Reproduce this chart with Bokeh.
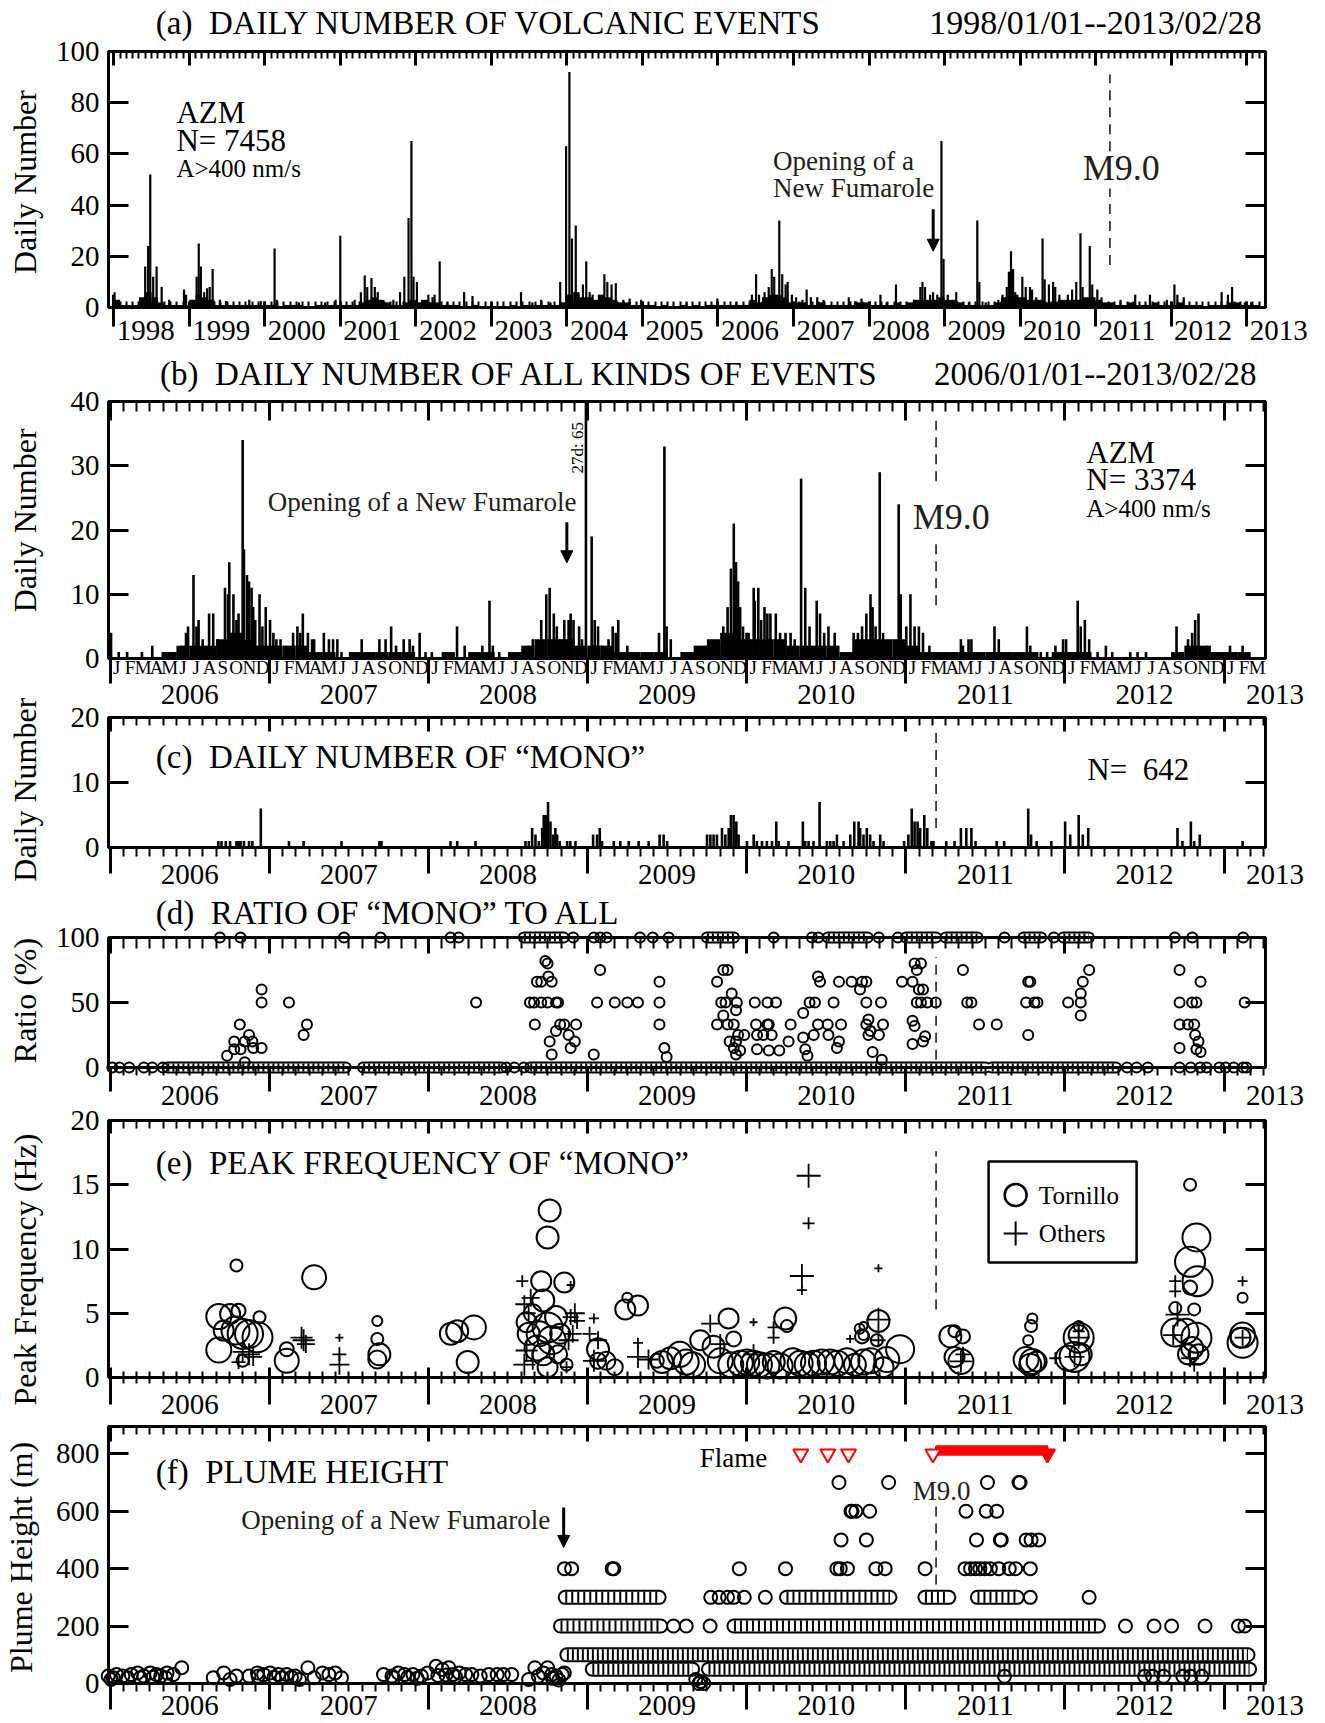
import numpy as np
from bokeh.plotting import figure
from bokeh.models import (FixedTicker, LinearAxis, Range1d, Label, LabelSet,
                          ColumnDataSource, Arrow, NormalHead)
from bokeh.embed import file_html
from bokeh.resources import INLINE
from bokeh.core.properties import value

FONT = "Liberation Serif"
INK = "#231f20"
NB = "\u00a0"

# ---------------- DATA ----------------
M9 = 2011.19          # Tohoku earthquake (2011/03/11)

# (a) daily number of volcanic events 1998-2013: monthly background level + spikes
a_bg = [
    [3, 1, 1, 1, 4, 6, 4, 2, 1, 1, 1, 1],   # 1998
    [3, 5, 4, 3, 1, 1, 1, 1, 1, 1, 1, 1],   # 1999
    [1, 1, 0, 1, 1, 1, 0, 0, 1, 1, 1, 1],   # 2000
    [1, 1, 1, 2, 3, 4, 3, 2, 1, 1, 2, 3],   # 2001
    [2, 3, 2, 2, 1, 1, 1, 0, 0, 1, 0, 0],   # 2002
    [0, 0, 0, 1, 0, 1, 1, 1, 1, 1, 1, 2],   # 2003
    [5, 6, 4, 4, 3, 5, 4, 3, 2, 2, 1, 1],   # 2004
    [1, 1, 0, 1, 0, 0, 1, 0, 1, 0, 1, 1],   # 2005
    [1, 1, 1, 1, 1, 3, 2, 4, 5, 5, 4, 2],   # 2006
    [2, 2, 1, 1, 2, 1, 1, 1, 1, 1, 2, 2],   # 2007
    [1, 1, 1, 1, 2, 1, 2, 3, 3, 3, 3, 4],   # 2008
    [3, 3, 2, 1, 1, 1, 1, 1, 2, 4, 5, 4],   # 2009
    [4, 3, 3, 3, 2, 2, 3, 3, 3, 3, 4, 4],   # 2010
    [3, 2, 2, 1, 1, 2, 1, 1, 1, 2, 1, 1],   # 2011
    [1, 2, 1, 1, 1, 0, 1, 1, 1, 2, 2, 1],   # 2012
    [1, 1],                                 # 2013
]
a_spikes = [
    (1997.99, 5), (1998.01, 6), (1998.416, 16), (1998.455, 24), (1998.483, 52), (1998.522, 12),
    (1998.567, 16), (1998.634, 8), (1998.734, 3), (1998.93, 7), (1998.957, 5), (1999.097, 12),
    (1999.125, 25), (1999.153, 16), (1999.197, 6), (1999.236, 7.5), (1999.27, 8), (1999.309, 15),
    (1999.404, 3), (1999.487, 2.5), (1999.794, 3), (1999.945, 2.5), (2000.129, 23), (2000.157, 3),
    (2000.452, 2), (2000.798, 2), (2000.937, 3), (2000.999, 28), (2001.189, 3), (2001.272, 6),
    (2001.323, 12.5), (2001.356, 8), (2001.412, 11.5), (2001.456, 8), (2001.495, 6), (2001.702, 3),
    (2001.79, 6), (2001.847, 12), (2001.903, 35), (2001.941, 65), (2001.969, 12), (2002.014, 10),
    (2002.081, 3), (2002.165, 5), (2002.22, 4), (2002.248, 5), (2002.315, 18), (2002.416, 2),
    (2002.639, 6), (2002.75, 4.5), (2003.392, 6), (2003.543, 2), (2003.66, 3), (2003.782, 2),
    (2003.911, 10), (2003.989, 63), (2004.033, 92), (2004.067, 27), (2004.117, 32), (2004.156, 5),
    (2004.212, 9), (2004.256, 18), (2004.301, 6), (2004.34, 5), (2004.424, 5), (2004.496, 13),
    (2004.535, 10), (2004.591, 9), (2004.647, 9.5), (2004.747, 3), (2004.831, 3.5), (2004.982, 3),
    (2005.585, 2), (2005.992, 3.5), (2006.243, 2), (2006.449, 5), (2006.505, 13), (2006.544, 5),
    (2006.617, 6), (2006.672, 8), (2006.712, 15), (2006.745, 12), (2006.812, 34), (2006.851, 13),
    (2006.896, 9), (2006.923, 10), (2006.979, 5), (2007.035, 4), (2007.119, 3), (2007.174, 7),
    (2007.23, 4), (2007.314, 4), (2007.398, 3), (2007.732, 4), (2007.816, 2.5), (2007.9, 3.5),
    (2008.151, 5), (2008.234, 2), (2008.357, 9), (2008.597, 3), (2008.68, 8), (2008.708, 10),
    (2008.742, 8), (2008.809, 5), (2008.848, 6), (2008.904, 5), (2008.959, 65), (2008.987, 19),
    (2009.043, 5), (2009.155, 6), (2009.322, 2), (2009.434, 34), (2009.461, 10), (2009.545, 2),
    (2009.712, 3), (2009.768, 5), (2009.824, 8), (2009.852, 14), (2009.88, 22), (2009.908, 15),
    (2009.936, 6), (2009.963, 5), (2010.03, 12), (2010.075, 8), (2010.131, 8), (2010.159, 7),
    (2010.214, 4), (2010.298, 27), (2010.326, 11), (2010.382, 9), (2010.438, 10), (2010.466, 8),
    (2010.521, 5), (2010.633, 5), (2010.689, 7), (2010.744, 10), (2010.8, 29), (2010.828, 8),
    (2010.923, 24), (2010.956, 9), (2011.023, 7), (2011.079, 4), (2011.33, 3), (2011.525, 5),
    (2011.72, 5), (2011.944, 3), (2012.044, 9), (2012.083, 5), (2012.167, 4), (2012.669, 6),
    (2012.753, 5), (2012.808, 8), (2012.976, 2), (2013.059, 2),
]

# (b) daily number of all kinds of events 2006-2013
b_bg = [
    [0, 0, 0, 0, 1, 2, 2, 2, 3, 4, 3, 2],   # 2006
    [2, 2, 2, 1, 1, 0, 1, 1, 1, 1, 1, 0],   # 2007
    [0, 1, 0, 1, 1, 0, 1, 2, 3, 3, 3, 2],   # 2008
    [2, 2, 1, 1, 1, 1, 0, 1, 2, 3, 4, 3],   # 2009
    [3, 3, 3, 2, 2, 2, 2, 1, 3, 3, 3, 3],   # 2010
    [2, 1, 1, 1, 1, 1, 1, 1, 1, 1, 0, 1],   # 2011
    [1, 1, 0, 0, 0, 0, 0, 0, 1, 2, 2, 1],   # 2012
    [1, 1],                                 # 2013
]
b_bars = [
    (2006.006, 4), (2006.054, 1), (2006.107, 1), (2006.2, 1), (2006.265, 2), (2006.331, 1),
    (2006.384, 1), (2006.41, 1), (2006.45, 2), (2006.477, 4), (2006.49, 5), (2006.524, 13),
    (2006.543, 5), (2006.556, 6), (2006.582, 3), (2006.603, 2), (2006.622, 7), (2006.648, 7),
    (2006.675, 3), (2006.722, 11), (2006.741, 10), (2006.749, 15), (2006.775, 10), (2006.794, 6),
    (2006.807, 7), (2006.833, 34), (2006.841, 17), (2006.86, 13), (2006.873, 12), (2006.889, 11),
    (2006.899, 8), (2006.912, 6), (2006.939, 10), (2006.957, 5), (2006.978, 8), (2007.005, 6),
    (2007.026, 4), (2007.045, 3), (2007.071, 3), (2007.15, 4), (2007.177, 5), (2007.195, 4),
    (2007.211, 7), (2007.243, 4), (2007.269, 3), (2007.282, 3), (2007.343, 4), (2007.375, 3),
    (2007.401, 3), (2007.428, 3), (2007.454, 1), (2007.581, 3), (2007.62, 1), (2007.66, 1),
    (2007.692, 3), (2007.731, 3), (2007.766, 5), (2007.797, 2), (2007.845, 3), (2007.882, 3),
    (2007.903, 2), (2007.945, 4), (2007.982, 1), (2008.022, 1), (2008.115, 1), (2008.18, 5),
    (2008.228, 2), (2008.273, 1), (2008.339, 2), (2008.384, 9), (2008.405, 2), (2008.445, 1),
    (2008.59, 1), (2008.63, 2), (2008.656, 3), (2008.709, 6), (2008.741, 10), (2008.762, 11),
    (2008.788, 7), (2008.807, 5), (2008.828, 3), (2008.854, 6), (2008.881, 6), (2008.894, 7),
    (2008.912, 6), (2008.947, 5), (2008.965, 3), (2008.99, 65), (2009.026, 19), (2009.045, 6),
    (2009.066, 5), (2009.092, 2), (2009.132, 3), (2009.158, 5), (2009.177, 4), (2009.193, 6),
    (2009.25, 2), (2009.316, 1), (2009.383, 1), (2009.449, 4), (2009.483, 33), (2009.497, 5),
    (2009.523, 3), (2009.602, 1), (2009.668, 1), (2009.721, 1), (2009.748, 2), (2009.787, 2),
    (2009.827, 2), (2009.853, 5), (2009.88, 8), (2009.901, 14), (2009.919, 21), (2009.933, 15),
    (2009.946, 12), (2009.959, 8), (2009.977, 5), (2009.999, 4), (2010.012, 4), (2010.044, 11),
    (2010.051, 9), (2010.073, 11), (2010.091, 6), (2010.112, 8), (2010.13, 7), (2010.149, 7),
    (2010.183, 7), (2010.21, 4), (2010.244, 4), (2010.276, 4), (2010.302, 3), (2010.342, 28),
    (2010.368, 11), (2010.395, 5), (2010.44, 9), (2010.461, 7), (2010.487, 4), (2010.514, 5),
    (2010.553, 4), (2010.62, 1), (2010.672, 4), (2010.699, 4), (2010.725, 5), (2010.752, 7),
    (2010.778, 10), (2010.791, 8), (2010.81, 5), (2010.836, 29), (2010.857, 4), (2010.897, 1),
    (2010.955, 24), (2010.968, 10), (2011.003, 5), (2011.029, 10), (2011.055, 5), (2011.082, 5),
    (2011.108, 4), (2011.148, 2), (2011.174, 1), (2011.254, 1), (2011.306, 1), (2011.346, 3),
    (2011.359, 2), (2011.394, 3), (2011.412, 3), (2011.452, 1), (2011.557, 5), (2011.584, 3),
    (2011.65, 1), (2011.761, 5), (2011.782, 2), (2011.848, 1), (2011.888, 1), (2011.94, 2),
    (2011.988, 3), (2012.007, 3), (2012.033, 1), (2012.08, 9), (2012.099, 5), (2012.125, 6),
    (2012.152, 3), (2012.205, 1), (2012.257, 2), (2012.297, 1), (2012.41, 1), (2012.456, 1),
    (2012.509, 1), (2012.701, 5), (2012.733, 1), (2012.773, 3), (2012.799, 4), (2012.818, 6),
    (2012.839, 7), (2012.865, 1), (2012.892, 2), (2012.971, 1), (2012.997, 1), (2013.037, 2),
    (2013.076, 1), (2013.116, 2),
]

# (c) daily number of "MONO"
c_bars = [
    (2006.68, 1), (2006.70, 1), (2006.727, 1), (2006.754, 1), (2006.794, 1), (2006.807, 1),
    (2006.82, 1), (2006.841, 1), (2006.873, 1), (2006.894, 1), (2006.947, 6), (2007.124, 1),
    (2007.216, 1), (2007.454, 1), (2007.692, 1), (2007.705, 1), (2008.139, 1), (2008.181, 1),
    (2008.296, 1), (2008.61, 1), (2008.631, 1), (2008.652, 3), (2008.673, 2), (2008.694, 1),
    (2008.715, 3), (2008.725, 5), (2008.74, 5), (2008.752, 7), (2008.767, 4), (2008.784, 2),
    (2008.798, 3), (2008.809, 2), (2008.825, 1), (2008.872, 1), (2008.892, 1), (2008.924, 1),
    (2009.035, 2), (2009.06, 2), (2009.077, 3), (2009.091, 1), (2009.165, 1), (2009.206, 1),
    (2009.259, 1), (2009.321, 1), (2009.384, 1), (2009.453, 2), (2009.478, 2), (2009.5, 1),
    (2009.751, 2), (2009.772, 2), (2009.792, 2), (2009.813, 2), (2009.845, 3), (2009.866, 2),
    (2009.887, 3), (2009.901, 5), (2009.918, 5), (2009.935, 4), (2009.949, 2), (2010.002, 1),
    (2010.044, 2), (2010.064, 1), (2010.096, 1), (2010.127, 1), (2010.159, 1), (2010.186, 4),
    (2010.201, 1), (2010.263, 1), (2010.353, 4), (2010.368, 1), (2010.389, 1), (2010.42, 1),
    (2010.458, 7), (2010.504, 1), (2010.525, 1), (2010.546, 1), (2010.567, 2), (2010.609, 1),
    (2010.651, 2), (2010.676, 4), (2010.703, 4), (2010.713, 3), (2010.734, 2), (2010.755, 3),
    (2010.776, 2), (2010.797, 1), (2010.839, 2), (2010.86, 1), (2010.989, 1), (2011.016, 2),
    (2011.037, 6), (2011.055, 4), (2011.074, 4), (2011.09, 3), (2011.116, 5), (2011.135, 3),
    (2011.161, 1), (2011.174, 1), (2011.254, 1), (2011.306, 1), (2011.346, 3), (2011.38, 3),
    (2011.412, 3), (2011.438, 1), (2011.571, 1), (2011.618, 1), (2011.769, 6), (2011.787, 2),
    (2011.822, 1), (2011.914, 1), (2012.001, 4), (2012.033, 2), (2012.086, 5), (2012.112, 2),
    (2012.146, 3), (2012.707, 3), (2012.738, 1), (2012.791, 4), (2012.812, 1), (2012.847, 2),
    (2013.116, 1),
]

# (d) ratio of "MONO" to all (%)
d_zero_runs = [(2006.36, 2007.48), (2007.59, 2008.46), (2008.64, 2011.50), (2011.54, 2012.32)]
d_zero_single = [2006.014, 2006.059, 2006.12, 2006.212, 2006.265, 2006.331, 2008.49, 2008.54,
                 2008.60, 2012.39, 2012.45, 2012.52, 2012.72, 2012.79, 2012.85, 2012.89,
                 2012.97, 2013.01, 2013.06, 2013.12, 2013.14]
d_full_runs = [(2008.60, 2008.85), (2009.75, 2009.92), (2010.51, 2010.76), (2011.00, 2011.19),
               (2011.25, 2011.45), (2011.74, 2011.85), (2011.99, 2012.15)]
d_full_single = [2006.69, 2006.82, 2007.47, 2007.70, 2008.14, 2008.19, 2008.91, 2009.04, 2009.08,
                 2009.12, 2009.33, 2009.41, 2009.51, 2010.17, 2010.41, 2010.45, 2010.83, 2010.95,
                 2011.62, 2011.93, 2012.69, 2012.80, 2013.12]
d_points = [
    (2006.735, 9), (2006.78, 14), (2006.82, 14), (2006.78, 20), (2006.846, 20), (2006.815, 33),
    (2006.873, 25), (2006.894, 20), (2006.899, 15), (2006.952, 15), (2006.952, 50), (2006.952, 60),
    (2007.124, 50), (2007.216, 25), (2007.237, 33), (2006.846, 4), (2008.3, 50), (2008.669, 33),
    (2008.638, 50), (2008.664, 50), (2008.682, 66), (2008.709, 66), (2008.735, 82), (2008.749, 80),
    (2008.754, 70), (2008.775, 66), (2008.709, 50), (2008.749, 50), (2008.802, 50), (2008.815, 50),
    (2008.828, 33), (2008.802, 28), (2008.762, 20), (2008.775, 10), (2008.854, 33), (2008.881, 25),
    (2008.894, 15), (2008.92, 20), (2008.928, 33), (2009.039, 10), (2009.079, 75), (2009.06, 50),
    (2009.171, 50), (2009.25, 50), (2009.317, 50), (2009.452, 66), (2009.452, 50), (2009.452, 33),
    (2009.483, 15), (2009.497, 8), (2009.814, 66), (2009.853, 75), (2009.88, 75), (2009.84, 50),
    (2009.867, 50), (2009.906, 57), (2009.938, 50), (2009.933, 44), (2009.853, 40), (2009.814, 33),
    (2009.88, 33), (2009.919, 33), (2009.893, 20), (2009.933, 20), (2009.946, 25), (2009.919, 15),
    (2009.933, 10), (2009.959, 13), (2009.985, 25), (2010.051, 50), (2010.131, 50), (2010.184, 50),
    (2010.059, 33), (2010.131, 33), (2010.139, 33), (2010.065, 25), (2010.104, 25), (2010.157, 25),
    (2010.065, 14), (2010.139, 13), (2010.205, 13), (2010.263, 20), (2010.276, 33), (2010.355, 42),
    (2010.355, 23), (2010.368, 14), (2010.382, 9), (2010.395, 50), (2010.429, 50), (2010.448, 70),
    (2010.461, 66), (2010.421, 25), (2010.448, 33), (2010.509, 33), (2010.514, 25), (2010.546, 50),
    (2010.567, 15), (2010.58, 20), (2010.58, 66), (2010.593, 33), (2010.659, 66), (2010.712, 60),
    (2010.725, 66), (2010.752, 66), (2010.752, 50), (2010.752, 33), (2010.765, 37), (2010.765, 25),
    (2010.778, 28), (2010.831, 25), (2010.844, 50), (2010.857, 33), (2010.791, 12), (2010.849, 6),
    (2010.976, 66), (2011.042, 66), (2011.055, 80), (2011.095, 80), (2011.069, 75), (2011.082, 60),
    (2011.108, 60), (2011.042, 36), (2011.055, 32), (2011.042, 18), (2011.069, 50), (2011.095, 50),
    (2011.135, 50), (2011.188, 50), (2011.121, 24), (2011.108, 20), (2011.359, 75), (2011.386, 50),
    (2011.412, 50), (2011.46, 33), (2011.571, 33), (2011.769, 66), (2011.782, 66), (2011.756, 50),
    (2011.808, 50), (2011.827, 50), (2011.769, 25), (2012.02, 50), (2012.099, 50), (2012.099, 57),
    (2012.112, 66), (2012.152, 75), (2012.099, 40), (2012.72, 75), (2012.72, 50), (2012.799, 50),
    (2012.826, 50), (2012.852, 66), (2012.72, 33), (2012.773, 33), (2012.812, 33), (2012.818, 25),
    (2012.839, 20), (2012.72, 15), (2012.826, 14), (2012.852, 12), (2013.129, 50),
]

# (e) peak frequency of "MONO": (year, Hz, symbol size)
e_tornillo = [
    (2006.683, 4.74, 25), (2006.683, 2.14, 25), (2006.714, 3.65, 20), (2006.754, 4.95, 20),
    (2006.794, 8.72, 12), (2006.807, 5.2, 14), (2006.788, 3.65, 28), (2006.833, 3.39, 30),
    (2006.873, 3.39, 28), (2006.926, 3.13, 30), (2006.939, 4.69, 12), (2006.833, 1.3, 12),
    (2007.11, 1.3, 24), (2007.11, 2.2, 14), (2007.282, 7.8, 24), (2007.679, 4.4, 10),
    (2007.679, 3.0, 12), (2007.692, 1.8, 22), (2007.679, 1.4, 18), (2008.141, 3.4, 22),
    (2008.181, 3.6, 22), (2008.286, 3.9, 24), (2008.247, 1.2, 22), (2008.617, 4.3, 20),
    (2008.63, 3.4, 22), (2008.656, 5.0, 18), (2008.709, 7.5, 20), (2008.722, 6.0, 22),
    (2008.749, 10.9, 22), (2008.762, 13.0, 22), (2008.854, 7.4, 20), (2008.696, 3.4, 25),
    (2008.749, 3.9, 30), (2008.775, 2.9, 28), (2008.722, 1.8, 22), (2008.749, 0.8, 20),
    (2008.802, 4.7, 22), (2008.683, 2.3, 25), (2008.828, 3.4, 20), (2008.815, 1.8, 18),
    (2008.868, 1.0, 12), (2009.066, 2.2, 22), (2009.066, 1.3, 16), (2009.171, 0.8, 16),
    (2009.118, 1.3, 18), (2009.25, 6.2, 10), (2009.237, 5.3, 20), (2009.317, 5.6, 20),
    (2009.435, 1.3, 14), (2009.468, 1.2, 22), (2009.52, 1.5, 22), (2009.58, 1.8, 25),
    (2009.62, 1.2, 25), (2009.66, 1.0, 25), (2009.708, 2.9, 20), (2009.792, 2.4, 22),
    (2009.886, 4.6, 20), (2009.918, 3.0, 15), (2009.834, 1.3, 25), (2009.90, 1.0, 25),
    (2009.96, 1.1, 25), (2010.00, 1.2, 25), (2010.043, 1.1, 25), (2010.08, 1.0, 25),
    (2010.127, 0.9, 25), (2010.17, 1.2, 22), (2010.21, 0.9, 25), (2010.242, 4.6, 22),
    (2010.253, 4.0, 12), (2010.29, 1.3, 25), (2010.336, 1.1, 25), (2010.38, 1.0, 25),
    (2010.42, 1.1, 25), (2010.47, 1.2, 25), (2010.525, 1.2, 25), (2010.57, 1.1, 25),
    (2010.63, 1.3, 25), (2010.68, 1.0, 22), (2010.734, 1.2, 25), (2010.734, 3.3, 10),
    (2010.734, 4.0, 8), (2010.725, 3.2, 14), (2010.71, 3.8, 10), (2010.78, 1.3, 25),
    (2010.828, 4.4, 22), (2010.818, 2.9, 12), (2010.86, 0.8, 20), (2010.88, 1.4, 25),
    (2010.964, 2.2, 28), (2011.28, 3.2, 22), (2011.306, 3.6, 12), (2011.359, 3.2, 14),
    (2011.346, 1.25, 25), (2011.306, 1.6, 20), (2011.795, 4.6, 10), (2011.787, 4.0, 12),
    (2011.769, 2.9, 10), (2011.756, 1.4, 25), (2011.795, 1.25, 25), (2011.782, 1.0, 22),
    (2011.822, 1.25, 20), (2012.086, 4.0, 10), (2012.086, 3.3, 20), (2012.086, 3.1, 30),
    (2012.06, 1.6, 30), (2012.02, 1.5, 25), (2012.099, 1.8, 22), (2012.786, 15.0, 12),
    (2012.826, 10.9, 28), (2012.786, 9.0, 30), (2012.833, 7.5, 30), (2012.786, 7.0, 14),
    (2012.812, 5.3, 12), (2012.693, 5.4, 12), (2012.693, 3.5, 28), (2012.76, 3.6, 25),
    (2012.826, 3.1, 30), (2012.799, 2.3, 22), (2012.773, 1.8, 20), (2012.839, 1.8, 20),
    (2013.116, 6.2, 10), (2013.116, 3.3, 25), (2013.116, 2.7, 30), (2013.103, 3.1, 20),
]
e_others = [
    (2006.807, 1.2, 14), (2006.873, 1.8, 22), (2006.899, 1.6, 18), (2006.833, 2.0, 20),
    (2007.203, 3.1, 22), (2007.216, 2.9, 22), (2007.23, 2.6, 18), (2007.441, 3.1, 8),
    (2007.441, 1.8, 14), (2007.441, 1.0, 20), (2008.59, 7.5, 12), (2008.643, 6.2, 18),
    (2008.603, 5.7, 18), (2008.63, 5.0, 14), (2008.617, 2.1, 22), (2008.603, 1.0, 22),
    (2008.656, 1.3, 18), (2008.894, 7.2, 8), (2008.894, 4.7, 16), (2008.907, 3.4, 18),
    (2008.92, 5.0, 20), (2008.934, 4.4, 16), (2008.881, 2.9, 20), (2008.868, 0.8, 12),
    (2009.013, 3.4, 14), (2009.04, 4.6, 10), (2009.04, 1.3, 22), (2009.066, 2.9, 18),
    (2009.317, 1.6, 22), (2009.317, 2.7, 10), (2009.383, 1.4, 20), (2009.771, 4.2, 18),
    (2009.834, 2.6, 20), (2010.043, 4.3, 8), (2010.043, 1.8, 20), (2010.169, 3.9, 12),
    (2010.169, 3.1, 12), (2010.389, 15.7, 24), (2010.389, 12.0, 12), (2010.347, 7.9, 24),
    (2010.347, 6.8, 10), (2010.828, 8.5, 8), (2010.828, 4.5, 24), (2010.828, 2.9, 14),
    (2010.65, 3.0, 8), (2011.346, 1.25, 22), (2011.359, 1.8, 15), (2012.086, 3.6, 12),
    (2012.086, 3.1, 22), (2012.06, 1.6, 20), (2011.94, 1.5, 12), (2012.693, 7.5, 12),
    (2012.693, 6.7, 12), (2012.707, 4.9, 24), (2012.68, 3.3, 20), (2012.786, 1.5, 18),
    (2012.812, 1.0, 14), (2013.116, 7.5, 10), (2013.116, 3.1, 16),
]

# (f) plume height (m)
f_early = [
    (2005.988, 26), (2006.006, 14), (2006.02, 20), (2006.04, 31), (2006.08, 26), (2006.11, 20),
    (2006.133, 31), (2006.173, 37), (2006.19, 20), (2006.212, 26), (2006.252, 37), (2006.27, 22),
    (2006.292, 31), (2006.318, 26), (2006.35, 20), (2006.358, 37), (2006.397, 31), (2006.45, 55),
    (2006.648, 20), (2006.714, 37), (2006.754, 14), (2006.794, 26), (2006.873, 26), (2006.926, 37),
    (2006.93, 25), (2006.965, 31), (2007.005, 37), (2007.03, 22), (2007.058, 31), (2007.08, 20),
    (2007.11, 31), (2007.14, 22), (2007.163, 26), (2007.19, 14), (2007.243, 55), (2007.282, 20),
    (2007.335, 37), (2007.375, 31), (2007.414, 37), (2007.454, 20), (2007.718, 31), (2007.771, 26),
    (2007.78, 20), (2007.811, 37), (2007.85, 31), (2007.87, 22), (2007.903, 31), (2007.93, 18),
    (2007.956, 26), (2007.996, 37), (2008.048, 60), (2008.06, 28), (2008.088, 49), (2008.11, 30),
    (2008.128, 55), (2008.154, 31), (2008.17, 24), (2008.194, 37), (2008.234, 31), (2008.273, 31),
    (2008.326, 26), (2008.379, 31), (2008.432, 31), (2008.471, 31), (2008.524, 31), (2008.63, 14),
    (2008.669, 55), (2008.69, 25), (2008.722, 37), (2008.749, 55), (2008.775, 31), (2008.78, 18),
    (2008.802, 26), (2008.82, 12), (2008.841, 31), (2008.854, 37),
]
f_rows_single = {
    700: [2010.58, 2010.892, 2011.513, 2011.711, 2011.718],
    600: [2010.655, 2010.662, 2010.686, 2010.773, 2011.378, 2011.505, 2011.571],
    500: [2010.593, 2010.752, 2011.444, 2011.594, 2011.600, 2011.756, 2011.787, 2011.835],
    400: [2008.855, 2008.9, 2009.155, 2009.165, 2009.954, 2010.244, 2010.567, 2010.588, 2010.633,
          2010.812, 2010.87, 2011.121, 2011.372, 2011.407, 2011.438, 2011.465, 2011.497, 2011.531,
          2011.584, 2011.65, 2011.69, 2011.782],
    300: [2009.774, 2009.827, 2009.88, 2009.919, 2009.985, 2010.117, 2011.782, 2012.152],
    200: [2009.54, 2009.62, 2009.77, 2012.38, 2012.56, 2012.67, 2012.88, 2013.09, 2013.13],
    25: [2011.62, 2012.50, 2012.55, 2012.62, 2012.74, 2012.79, 2012.86],
}
f_rows_runs = {
    300: [(2008.86, 2009.45), (2010.25, 2010.90), (2011.12, 2011.27), (2011.45, 2011.70)],
    200: [(2008.83, 2009.46), (2009.92, 2012.21)],
    100: [(2008.87, 2013.15)],
    50: [(2009.03, 2009.66), (2009.76, 2013.16)],
}
f_dip = [(2009.68, 14), (2009.70, 0), (2009.71, 7), (2009.73, 0)]
flame_single = [2010.34, 2010.51, 2010.64, 2011.17]
flame_runs = [(2011.19, 2011.89)]

# dashed M9.0 marker pieces per panel (gaps where the "M9.0" text sits)
m9_dash = {
    "a": [(16.6, 46.5), (61, 91)],
    "b": [(8.3, 18.7), (27.6, 37)],
    "c": [(3, 18)],
    "d": [(6, 85)],
    "e": [(5.3, 17.6)],
    "f": [(345, 618)],
}

# ---------------- GEOMETRY (one canvas, panels mapped by named ranges) ----------------
W, H = 1325, 1723
FL, FR = 108.0, 1265.0
XA = (1997.93, 2013.25)
XB = (2005.99, 2013.26)
PANELS = {  # y-range name: (lo, hi, top px, bottom px)
    "a": (0, 100, 51, 307), "b": (0, 40, 401, 658), "c": (0, 20, 717, 847),
    "d": (0, 100, 937, 1067), "e": (0, 20, 1120, 1377), "f": (0, 895, 1426, 1683),
}


def x_ext(x0, x1):
    ppu = (FR - FL) / (x1 - x0)
    s = x0 - FL / ppu
    return Range1d(s, s + W / ppu)


def y_ext(lo, hi, top, bot):
    ppu = (bot - top) / (hi - lo)
    vb = lo - (H - bot) / ppu
    return Range1d(vb, vb + H / ppu)


p = figure(frame_width=W, frame_height=H, min_border=0, x_range=Range1d(0, W),
           y_range=Range1d(0, H), x_axis_location=None, y_axis_location=None,
           output_backend="svg", toolbar_location=None)
p.outline_line_color = None
p.xgrid.visible = False
p.ygrid.visible = False
p.background_fill_color = "white"
p.border_fill_color = "white"
p.extra_x_ranges = {"A": x_ext(*XA), "B": x_ext(*XB)}
p.extra_y_ranges = {k: y_ext(*v) for k, v in PANELS.items()}

MONTHS_A = [y + m / 12 for y in range(1998, 2014) for m in range(12)
            if XA[0] <= y + m / 12 <= XA[1]]
MONTHS_B = [y + m / 12 for y in range(2006, 2014) for m in range(12)
            if XB[0] <= y + m / 12 <= XB[1]]
YEARS_A = list(range(1998, 2014))
YEARS_B = list(range(2006, 2014))


def rn(xn, yn):
    return dict(x_range_name=xn, y_range_name=yn)


def minor_axis(side, xn, yn, loc, bounds, ticks, tin, tout, lw):
    ax = LinearAxis(ticker=FixedTicker(ticks=[], minor_ticks=ticks), fixed_location=loc,
                    bounds=bounds, axis_line_color=None, minor_tick_line_color="black",
                    minor_tick_line_width=lw, minor_tick_in=tin, minor_tick_out=tout,
                    major_tick_line_color=None, **rn(xn, yn))
    p.add_layout(ax, side)


def frame_box(xn, yn, x0, x1, y0, y1):
    p.quad(left=[x0], right=[x1], bottom=[y0], top=[y1], fill_color=None,
           line_color="black", line_width=3, **rn(xn, yn))


def y_axes(xn, yn, x0, x1, lo, hi, ticks):
    ax = LinearAxis(ticker=FixedTicker(ticks=ticks, minor_ticks=[]), fixed_location=x0,
                    bounds=(lo, hi), axis_line_color=None, major_tick_line_width=3,
                    major_tick_in=20, major_tick_out=0, major_label_text_font=FONT,
                    major_label_text_font_size="29px", major_label_text_color="black",
                    major_label_standoff=9, **rn(xn, yn))
    p.add_layout(ax, "left")
    minor_axis("right", xn, yn, x1, (lo, hi), ticks, 20, 0, 3)


def x_ticks(xn, yn, x0, x1, lo, hi, years, months, bot, top):
    # bot/top: (year_in, year_out, month_in, month_out)
    yi, yo, mi, mo = bot
    minor_axis("below", xn, yn, lo, (x0, x1), years, yi, yo, 3)
    if mi or mo:
        minor_axis("below", xn, yn, lo, (x0, x1), months, mi, mo, 2)
    yi, yo, mi, mo = top
    minor_axis("above", xn, yn, hi, (x0, x1), years, yi, yo, 3)
    minor_axis("above", xn, yn, hi, (x0, x1), months, mi, mo, 2)


def label(xn, yn, x, y, text, size, align="left", color="black", angle=0.0):
    p.add_layout(Label(x=x, y=y, text=text, text_font=FONT, text_font_size=size,
                       text_align=align, text_baseline="middle", text_color=color,
                       angle=angle, **rn(xn, yn)))


def label_set(xn, yn, xs, ys, texts, size, align="center"):
    src = ColumnDataSource(dict(x=xs, y=ys, t=texts))
    p.add_layout(LabelSet(x="x", y="y", text="t", source=src, text_font=value(FONT),
                          text_font_size=value(size), text_align=align,
                          text_baseline="middle", text_color="black", **rn(xn, yn)))


def year_labels_b(yn, ypos):
    xs = [y + 0.5 for y in range(2006, 2013)] + [2013.32]
    label_set("B", yn, xs, [ypos] * len(xs), [str(y) for y in range(2006, 2014)], "29px")


def dashed(xn, yn):
    pieces = m9_dash[yn]
    p.segment(x0=[M9] * len(pieces), y0=[q[0] for q in pieces], x1=[M9] * len(pieces),
              y1=[q[1] for q in pieces], line_color=INK, line_width=1.6, line_dash="10 7",
              **rn(xn, yn))


def ytitle(xn, yn, x, y, text):
    label(xn, yn, x, y, text, "32px", align="center", angle=np.pi / 2)


def title(xn, yn, x, y, tag, text):
    label(xn, yn, x, y, tag + " " + NB + text, "33px")


def chain(xn, yn, runs, yv, size, dash="2 3"):
    # a run of densely overlapping rings, drawn as a ringed band
    s = [r[0] for r in runs]
    e = [r[1] for r in runs]
    yy = [yv] * len(s)
    p.segment(x0=s, y0=yy, x1=e, y1=yy, line_color="black", line_width=size + 2,
              line_cap="round", **rn(xn, yn))
    p.segment(x0=s, y0=yy, x1=e, y1=yy, line_color="white", line_width=size - 2,
              line_cap="round", **rn(xn, yn))
    p.segment(x0=s, y0=yy, x1=e, y1=yy, line_color="black", line_width=size - 2,
              line_dash=dash, **rn(xn, yn))


def rings(xn, yn, xs, ys, size, lw=2.0):
    p.scatter(x=xs, y=ys, marker="circle", size=size, fill_color=None, line_color="black",
              line_width=lw, **rn(xn, yn))


def bars(xn, yn, pairs, lw, cap):
    xs = [q[0] for q in pairs]
    p.segment(x0=xs, y0=[0] * len(xs), x1=xs, y1=[min(q[1], cap) for q in pairs],
              line_color="black", line_width=lw, **rn(xn, yn))


def month_blocks(xn, yn, rows, first_year):
    xs, ys = [], []
    for i, row in enumerate(rows):
        for m, v in enumerate(row):
            xs.append(first_year + i + (m + 0.5) / 12)
            ys.append(v)
    p.vbar(x=xs, top=ys, width=1 / 12, bottom=0, fill_color="black", line_color=None,
           **rn(xn, yn))


def arrow(xn, yn, x, y0, y1):
    p.add_layout(Arrow(end=NormalHead(size=12, fill_color="black", line_color="black"),
                       x_start=x, y_start=y0, x_end=x, y_end=y1, line_width=3,
                       line_color="black", **rn(xn, yn)))


# ---------------- (a) ----------------
x0, x1 = XA
month_blocks("A", "a", a_bg, 1998)
bars("A", "a", a_spikes, 2.2, 100)
frame_box("A", "a", x0, x1, 0, 100)
x_ticks("A", "a", x0, x1, 0, 100, YEARS_A, MONTHS_A, (6, 19, 6, 0), (14, 0, 7, 0))
y_axes("A", "a", x0, x1, 0, 100, [0, 20, 40, 60, 80, 100])
dashed("A", "a")
title("A", "a", 1998.556, 111.3, "(a)", "DAILY NUMBER OF VOLCANIC EVENTS")
label("A", "a", 2013.20, 111.3, "1998/01/01--2013/02/28", "34px", align="right")
label("A", "a", 1998.83, 76.2, "AZM", "31px")
label("A", "a", 1998.83, 65.4, "N= 7458", "31px")
label("A", "a", 1998.83, 54.3, "A>400 nm/s", "25px")
label("A", "a", 2006.73, 57.3, "Opening of a", "27px", color=INK)
label("A", "a", 2006.73, 46.5, "New Fumarole", "27px", color=INK)
label("A", "a", 2010.83, 54.3, "M9.0", "36px", color=INK)
arrow("A", "a", 2008.85, 38.4, 22)
label_set("A", "a", [y + 0.04 for y in YEARS_A], [-8.8] * len(YEARS_A),
          [str(y) for y in YEARS_A], "29px", align="left")
ytitle("A", "a", 1996.822, 49, "Daily Number")

# ---------------- (b) ----------------
x0, x1 = XB
month_blocks("B", "b", b_bg, 2006)
bars("B", "b", b_bars, 2.6, 40)
frame_box("B", "b", x0, x1, 0, 40)
x_ticks("B", "b", x0, x1, 0, 40, YEARS_B, MONTHS_B, (0, 25, 0, 0), (19, 0, 10, 0))
y_axes("B", "b", x0, x1, 0, 40, [0, 10, 20, 30, 40])
dashed("B", "b")
title("B", "b", 2006.314, 44.3, "(b)", "DAILY NUMBER OF ALL KINDS OF EVENTS")
label("B", "b", 2013.204, 44.3, "2006/01/01--2013/02/28", "33px", align="right")
label("B", "b", 2012.134, 32.1, "AZM", "31px")
label("B", "b", 2012.134, 27.9, "N= 3374", "31px")
label("B", "b", 2012.134, 23.4, "A>400 nm/s", "25px")
label("B", "b", 2006.99, 24.3, "Opening of a New Fumarole", "27px", color=INK)
label("B", "b", 2011.044, 22.0, "M9.0", "36px", color=INK)
label("B", "b", 2008.937, 32.8, "27d: 65", "17px", align="center", angle=np.pi / 2)
arrow("B", "b", 2008.87, 21.2, 14.9)
mx = [y + (m + 0.5) / 12 for y in range(2006, 2013) for m in range(12)] + \
     [2013 + (m + 0.5) / 12 for m in range(3)]
mt = list("JFMAMJJASOND") * 7 + list("JFM")
label_set("B", "b", mx, [-1.45] * len(mx), mt, "19px")
year_labels_b("b", -5.66)
ytitle("B", "b", 2005.464, 21.5, "Daily Number")

# ---------------- (c) ----------------
bars("B", "c", c_bars, 2.6, 20)
frame_box("B", "c", x0, x1, 0, 20)
x_ticks("B", "c", x0, x1, 0, 20, YEARS_B, MONTHS_B, (0, 26, 0, 9), (14, 0, 8, 0))
y_axes("B", "c", x0, x1, 0, 20, [0, 10, 20])
dashed("B", "c")
title("B", "c", 2006.287, 14.0, "(c)", "DAILY NUMBER OF \u201cMONO\u201d")
label("B", "c", 2012.14, 12.0, "N=" + NB + " 642", "31px")
year_labels_b("c", -4.08)
ytitle("B", "c", 2005.464, 8.9, "Daily Number")

# ---------------- (d) ----------------
chain("B", "d", d_zero_runs, 0, 10)
chain("B", "d", d_full_runs, 100, 10)
rings("B", "d", d_zero_single, [0] * len(d_zero_single), 10)
rings("B", "d", d_full_single, [100] * len(d_full_single), 10)
rings("B", "d", [q[0] for q in d_points], [q[1] for q in d_points], 10)
frame_box("B", "d", x0, x1, 0, 100)
x_ticks("B", "d", x0, x1, 0, 100, YEARS_B, MONTHS_B, (0, 24, 0, 8), (16, 0, 11, 0))
y_axes("B", "d", x0, x1, 0, 100, [0, 50, 100])
dashed("B", "d")
title("B", "d", 2006.287, 118.5, "(d)", "RATIO OF \u201cMONO\u201d TO ALL")
year_labels_b("d", -21.8)
ytitle("B", "d", 2005.464, 51.5, "Ratio (%)")

# ---------------- (e) ----------------
p.scatter(x=[q[0] for q in e_tornillo], y=[q[1] for q in e_tornillo],
          size=[q[2] for q in e_tornillo], marker="circle", fill_color=None,
          line_color="black", line_width=2, **rn("B", "e"))
p.scatter(x=[q[0] for q in e_others], y=[q[1] for q in e_others],
          size=[q[2] for q in e_others], marker="cross", line_color="black", line_width=1.8,
          **rn("B", "e"))
frame_box("B", "e", x0, x1, 0, 20)
x_ticks("B", "e", x0, x1, 0, 20, YEARS_B, MONTHS_B, (10, 27, 6, 6), (13, 0, 8, 0))
y_axes("B", "e", x0, x1, 0, 20, [0, 5, 10, 15, 20])
dashed("B", "e")
title("B", "e", 2006.287, 16.7, "(e)", "PEAK FREQUENCY OF \u201cMONO\u201d")
p.quad(left=[2011.52], right=[2012.45], bottom=[8.95], top=[16.8], fill_color="white",
       line_color="black", line_width=2.5, **rn("B", "e"))
p.scatter(x=[2011.69], y=[14.2], marker="circle", size=22, fill_color=None,
          line_color="black", line_width=2.5, **rn("B", "e"))
p.scatter(x=[2011.69], y=[11.2], marker="cross", size=24, line_color="black", line_width=2,
          **rn("B", "e"))
label("B", "e", 2011.836, 14.2, "Tornillo", "25px")
label("B", "e", 2011.836, 11.2, "Others", "25px")
year_labels_b("e", -2.1)
ytitle("B", "e", 2005.464, 8.4, "Peak Frequency (Hz)")

# ---------------- (f) ----------------
chain("B", "f", f_rows_runs[50], 50, 13)
chain("B", "f", f_rows_runs[100], 100, 13)
chain("B", "f", f_rows_runs[200], 200, 13, dash="2 4")
chain("B", "f", f_rows_runs[300], 300, 13, dash="2 4")
for h, xs in f_rows_single.items():
    rings("B", "f", xs, [h] * len(xs), 13)
rings("B", "f", [q[0] for q in f_early], [q[1] for q in f_early], 13)
rings("B", "f", [q[0] for q in f_dip], [q[1] for q in f_dip], 13)
p.quad(left=[r[0] for r in flame_runs], right=[r[1] for r in flame_runs],
       bottom=[797] * len(flame_runs), top=[826] * len(flame_runs),
       fill_color="red", line_color="red", line_width=2, **rn("B", "f"))
p.scatter(x=[r[1] for r in flame_runs], y=[800] * len(flame_runs), marker="inverted_triangle",
          size=15, fill_color="red", line_color="red", line_width=2, **rn("B", "f"))
p.scatter(x=flame_single, y=[800] * len(flame_single), marker="inverted_triangle", size=15,
          fill_color="white", line_color="red", line_width=2, **rn("B", "f"))
frame_box("B", "f", x0, x1, 0, 895)
x_ticks("B", "f", x0, x1, 0, 895, YEARS_B, MONTHS_B, (0, 26, 0, 8), (15, 0, 8, 0))
y_axes("B", "f", x0, x1, 0, 895, [0, 200, 400, 600, 800])
dashed("B", "f")
title("B", "f", 2006.287, 735, "(f)", "PLUME HEIGHT")
label("B", "f", 2009.705, 787, "Flame", "27px")
label("B", "f", 2011.044, 672, "M9.0", "27px", color=INK)
label("B", "f", 2008.765, 569, "Opening of a New Fumarole", "27px", align="right", color=INK)
arrow("B", "f", 2008.85, 613, 474)
year_labels_b("f", -77.0)
ytitle("B", "f", 2005.44, 439, "Plume Height (m)")

open("out.html", "w").write(file_html(p, INLINE))
